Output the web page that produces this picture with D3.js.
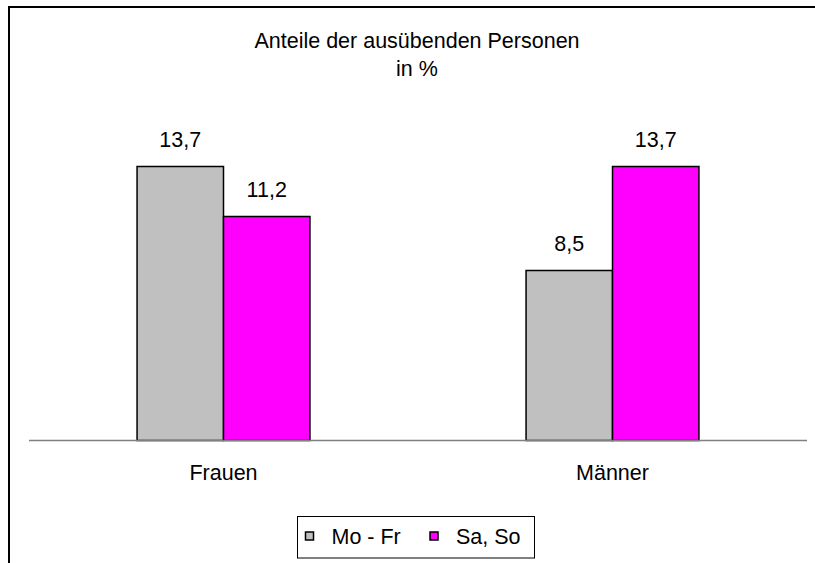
<!DOCTYPE html>
<html>
<head>
<meta charset="utf-8">
<script src="https://cdn.jsdelivr.net/npm/d3@7"></script>
<style>
  html, body { margin: 0; padding: 0; background: #fff; }
  svg { display: block; font-family: "Liberation Sans", Arial, sans-serif; }
</style>
</head>
<body>
<svg id="chart" width="815" height="563"></svg>
<script>
// Anteile der ausübenden Personen nach Geschlecht, Werktage vs. Wochenende
const categories = ["Frauen", "Männer"];
const seriesNames = ["Mo - Fr", "Sa, So"];
const moFr = [13.7, 8.5];
const saSo = [11.2, 13.7];
const seriesColors = ["#c0c0c0", "#ff00ff"];
const titleLines = ["Anteile der ausübenden Personen", "in %"];

const values = [moFr, saSo];
const rows = categories.map((c, i) => ({
  category: c,
  bars: seriesNames.map((s, j) => ({ series: s, value: values[j][i], color: seriesColors[j] }))
}));

const svg = d3.select("#chart");
const fontSize = 21.5;
const fmt = v => d3.format(".1f")(v).replace(".", ",");

// outer frame (runs past the right and bottom edges)
svg.append("rect")
  .attr("x", 9).attr("y", 7)
  .attr("width", 830).attr("height", 580)
  .attr("fill", "#fff").attr("stroke", "#000").attr("stroke-width", 2);

// plot geometry
const left = 29, right = 807, baseline = 440.5;
const y = d3.scaleLinear().domain([0, 13.7]).range([baseline, baseline - 274]);
const x0 = d3.scaleBand().domain(categories).range([left, right]).padding(0);
const x1 = d3.scaleBand().domain(seriesNames).range([0, x0.bandwidth()])
  .paddingInner(0).paddingOuter(1.25);

// title
svg.append("g").selectAll("text").data(titleLines).join("text")
  .attr("x", 417).attr("y", (d, i) => 48 + i * 28)
  .attr("text-anchor", "middle")
  .attr("font-size", fontSize)
  .attr("fill", "#000")
  .text(d => d);

// bars
const groups = svg.append("g").selectAll("g").data(rows).join("g")
  .attr("transform", d => `translate(${x0(d.category)},0)`);

groups.selectAll("rect").data(d => d.bars).join("rect")
  .attr("x", d => x1(d.series))
  .attr("y", d => y(d.value))
  .attr("width", x1.bandwidth())
  .attr("height", d => baseline - y(d.value))
  .attr("fill", d => d.color)
  .attr("stroke", "#000")
  .attr("stroke-width", 1.5);

// value labels
groups.selectAll("text").data(d => d.bars).join("text")
  .attr("x", d => x1(d.series) + x1.bandwidth() / 2)
  .attr("y", d => y(d.value) - 20)
  .attr("text-anchor", "middle")
  .attr("font-size", fontSize)
  .attr("fill", "#000")
  .text(d => fmt(d.value));

// category axis
const xAxis = d3.axisBottom(x0).tickSize(0).tickPadding(0);
const axisG = svg.append("g").attr("transform", `translate(0,${baseline})`).call(xAxis);
axisG.select(".domain").attr("stroke", "#808080").attr("stroke-width", 1.5)
  .attr("d", `M${left},0H${right}`);
axisG.selectAll(".tick text")
  .attr("font-size", fontSize)
  .attr("font-family", "\"Liberation Sans\", Arial, sans-serif")
  .attr("fill", "#000")
  .attr("dy", null)
  .attr("y", 39.5);

// legend
const legend = svg.append("g");
legend.append("rect")
  .attr("x", 297.5).attr("y", 516.5)
  .attr("width", 237).attr("height", 41.5)
  .attr("fill", "#fff").attr("stroke", "#000").attr("stroke-width", 1);
const legendX = [305, 429.5];
const items = legend.selectAll("g.item").data(seriesNames).join("g")
  .attr("class", "item")
  .attr("transform", (d, i) => `translate(${legendX[i]},0)`);
items.append("rect")
  .attr("x", 0.5).attr("y", 532)
  .attr("width", 8).attr("height", 8)
  .attr("fill", (d, i) => seriesColors[i])
  .attr("stroke", "#000").attr("stroke-width", 1.5);
items.append("text")
  .attr("x", 26.5).attr("y", 543.5)
  .attr("font-size", fontSize)
  .attr("fill", "#000")
  .text(d => d);
</script>
</body>
</html>
